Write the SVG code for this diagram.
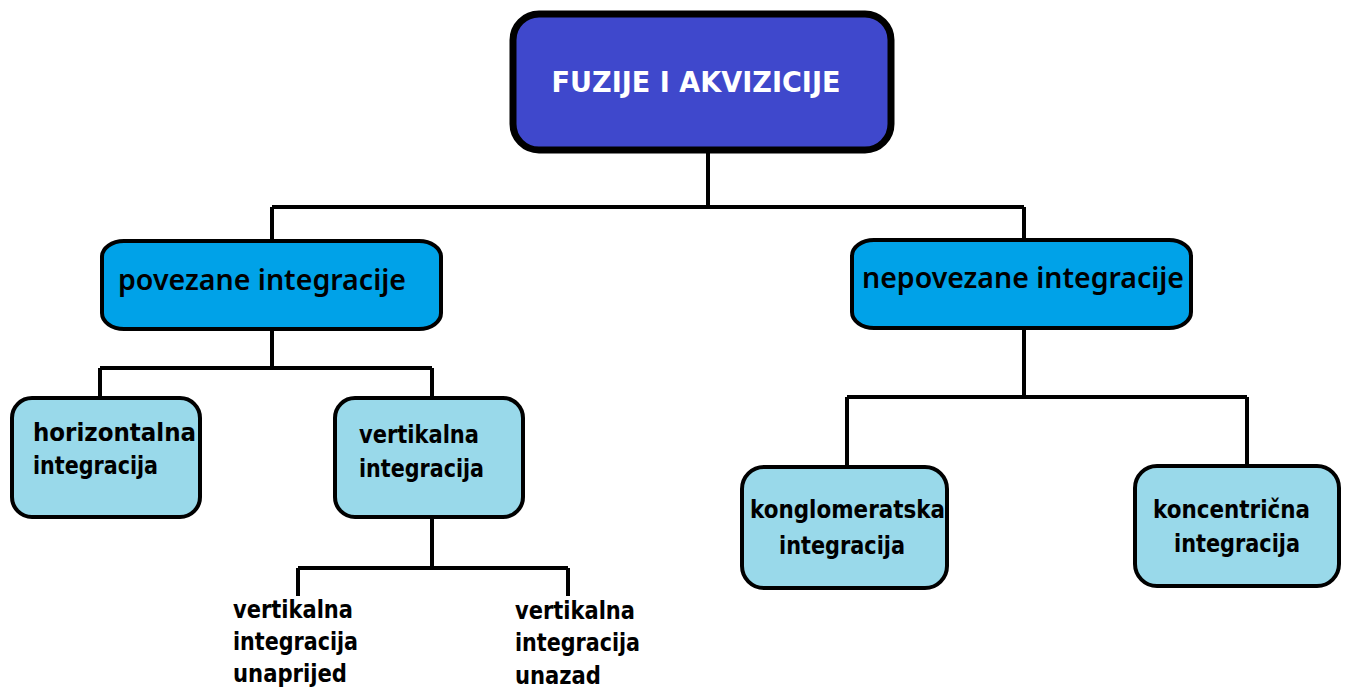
<svg xmlns="http://www.w3.org/2000/svg" width="1346" height="688" viewBox="0 0 1346 688">
<style>
.c{fill:none;stroke:#000;stroke-width:4}
.top{fill:#3f48cc;stroke:#000;stroke-width:7}
.mid{fill:#00a2e8;stroke:#000;stroke-width:4}
.leaf{fill:#99d9ea;stroke:#000;stroke-width:4}
.t{font-family:"DejaVu Sans","Liberation Sans",sans-serif;fill:#000}
.m{font-family:"Noto Sans","DejaVu Sans",sans-serif;font-weight:600;font-size:29px;fill:#000}
.b{font-weight:bold;font-size:24px}
</style>
<rect width="1346" height="688" fill="#fff"/>
<g id="connectors">
<path class="c" d="M708 150V207M272 207H1024M272 207V240M1024 207V240"/>
<path class="c" d="M272 330V368M100 368H432M100 368V398M432 368V398"/>
<path class="c" d="M1024 328V397M847 397H1247M847 397V467M1247 397V466"/>
<path class="c" d="M432 517V568M298 568H568M298 568V596M568 568V596"/>
</g>
<g id="n-root">
<rect class="top" x="513" y="14" width="378" height="136" rx="26"/>
<text class="t" x="696" y="92" text-anchor="middle" font-size="29" font-weight="bold" style="fill:#fff" textLength="289" lengthAdjust="spacingAndGlyphs">FUZIJE I AKVIZICIJE</text>
</g>
<g id="n-povezane">
<rect class="mid" x="102" y="241" width="339" height="88" rx="22" ry="16"/>
<text class="m" x="118" y="290" textLength="288" lengthAdjust="spacingAndGlyphs">povezane integracije</text>
</g>
<g id="n-nepovezane">
<rect class="mid" x="852" y="240" width="339" height="88" rx="22" ry="16"/>
<text class="m" x="862" y="288" textLength="322" lengthAdjust="spacingAndGlyphs">nepovezane integracije</text>
</g>
<g id="n-horizontalna">
<rect class="leaf" x="12" y="398" width="188" height="119" rx="20"/>
<text class="t b" x="33" y="441" textLength="163" lengthAdjust="spacingAndGlyphs">horizontalna</text>
<text class="t b" x="33" y="474" textLength="125" lengthAdjust="spacingAndGlyphs">integracija</text>
</g>
<g id="n-vertikalna">
<rect class="leaf" x="335" y="398" width="188" height="119" rx="20"/>
<text class="t b" x="359" y="443" textLength="120" lengthAdjust="spacingAndGlyphs">vertikalna</text>
<text class="t b" x="359" y="477" textLength="125" lengthAdjust="spacingAndGlyphs">integracija</text>
</g>
<g id="n-unaprijed">
<text class="t b" x="233" y="618" textLength="120" lengthAdjust="spacingAndGlyphs">vertikalna</text>
<text class="t b" x="233" y="650" textLength="125" lengthAdjust="spacingAndGlyphs">integracija</text>
<text class="t b" x="233" y="682" textLength="114" lengthAdjust="spacingAndGlyphs">unaprijed</text>
</g>
<g id="n-unazad">
<text class="t b" x="515" y="619" textLength="120" lengthAdjust="spacingAndGlyphs">vertikalna</text>
<text class="t b" x="515" y="651" textLength="125" lengthAdjust="spacingAndGlyphs">integracija</text>
<text class="t b" x="515" y="684" textLength="86" lengthAdjust="spacingAndGlyphs">unazad</text>
</g>
<g id="n-konglomeratska">
<rect class="leaf" x="742" y="467" width="205" height="121" rx="22"/>
<text class="t b" x="750" y="518" textLength="195" lengthAdjust="spacingAndGlyphs">konglomeratska</text>
<text class="t b" x="779" y="554" textLength="126" lengthAdjust="spacingAndGlyphs">integracija</text>
</g>
<g id="n-koncentricna">
<rect class="leaf" x="1135" y="466" width="204" height="120" rx="22"/>
<text class="t b" x="1153" y="518" textLength="157" lengthAdjust="spacingAndGlyphs">koncentrična</text>
<text class="t b" x="1174" y="552" textLength="126" lengthAdjust="spacingAndGlyphs">integracija</text>
</g>
</svg>
